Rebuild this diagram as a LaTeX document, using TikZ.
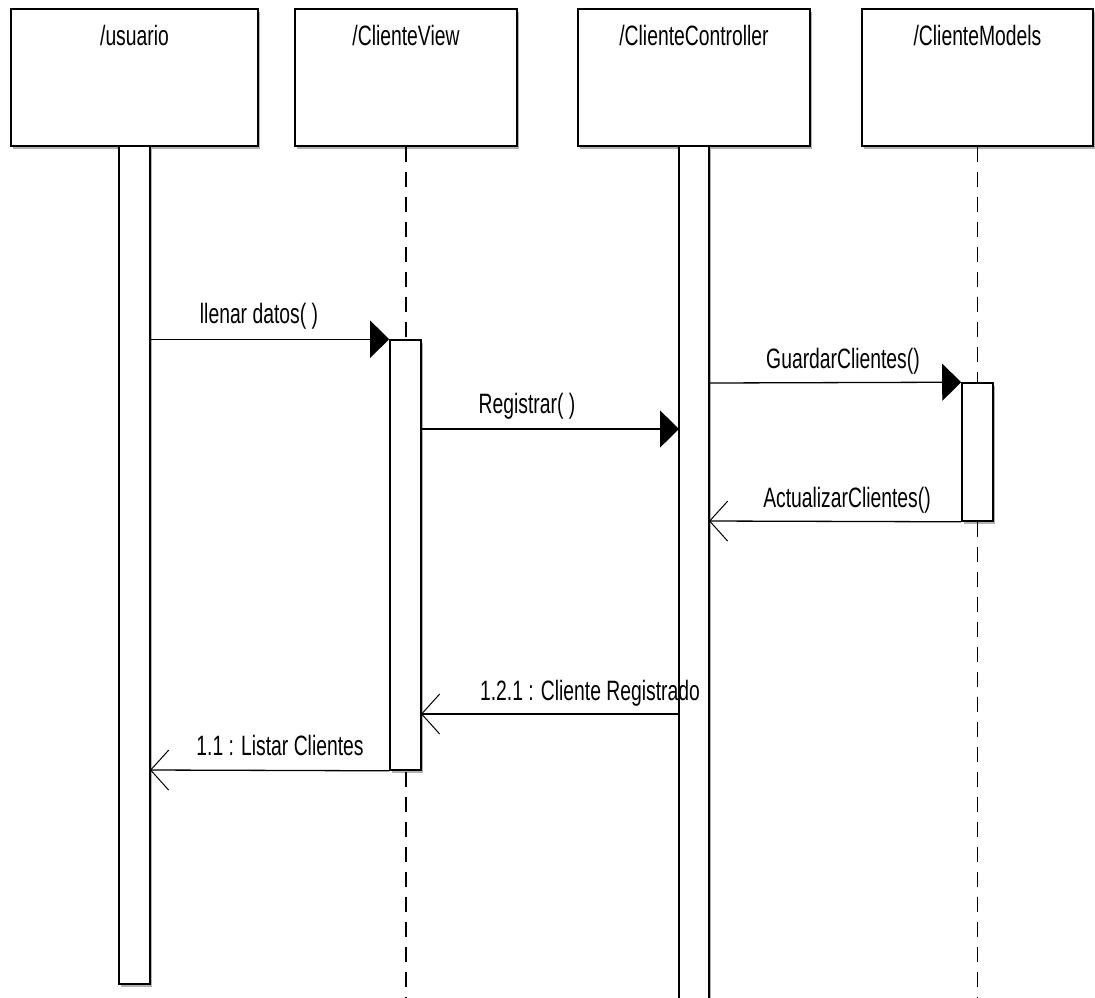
\documentclass[tikz,border=0pt]{standalone}
\usepackage{fontspec}
\setmainfont[FakeStretch=0.69]{Liberation Sans}
\usetikzlibrary{arrows.meta,shadows}
\begin{document}
\begin{tikzpicture}[x=1pt,y=-1pt,
  every node/.style={font=\fontsize{28}{30}\selectfont, inner sep=0pt},
  shadowed/.style={drop shadow={shadow xshift=2pt,shadow yshift=-3pt,opacity=0.3,fill=black}},
  head/.style={draw=black, line width=1.8pt, fill=white, shadowed, minimum height=137pt},
  actbar/.style={draw=black, line width=1.6pt, fill=white, shadowed, minimum width=31pt},
  lifeline/.style={draw=black, line width=1.4pt, dash pattern=on 15pt off 10pt},
  call/.style={draw=black, line width=1.3pt, -{Triangle[length=19pt,width=37pt]}},
  reply/.style={draw=black, line width=1.3pt, -{Straight Barb[length=18pt,width=40pt,line width=1pt]}},
  lbl/.style={anchor=base}]
\useasboundingbox (0,0) rectangle (1095,997);
\fill[white] (0,0) rectangle (1095,997);

% heads
\node[head, minimum width=247pt] (u) at (134.5,77.5) {};
\node[head, minimum width=222pt] (v) at (406,77.5) {};
\node[head, minimum width=232pt] (c) at (694,77.5) {};
\node[head, minimum width=231pt] (m) at (977.5,77.5) {};
\node[lbl] (ut) at (134.5,45) {/usuario};
\node[lbl] (vt) at (406,45) {/ClienteView};
\node[lbl] (ct) at (694,45) {/ClienteController};
\node[lbl] (mt) at (977.5,45) {/ClienteModels};

% lifelines
\coordinate (vend) at (406,1000);
\coordinate (mend) at (977.5,1000);
\draw[lifeline] (v.south) -- (vend);
\draw[lifeline] (m.south) -- (mend);

% activation bars
\node[actbar, minimum height=838pt] (ua) at (134.5,565) {};
\node[actbar, minimum height=430pt] (va) at (405.5,555) {};
\node[actbar, minimum width=30pt, minimum height=870pt] (ca) at (694,581) {};
\node[actbar, minimum height=138pt] (ma) at (977.5,452) {};

% messages
\coordinate (r1) at (421,429);
\coordinate (r2) at (679,429);
\coordinate (a1) at (962,521);
\coordinate (a2) at (709,521);
\coordinate (g1) at (709,383);
\coordinate (d1) at (679,714);
\coordinate (d2) at (421,714);
\coordinate (l1) at (150,770);

\draw[call] (ua.east |- va.north) -- (va.north west);
\draw[call] (r1) -- (r2);
\draw[call] (g1) -- (ma.north west);
\draw[reply] (ma.south west) -- (a2);
\draw[reply] (d1) -- (d2);
\draw[reply] (va.south west) -- (l1);

% labels
\node[lbl] (t1) at (259,323) {llenar datos( )};
\node[lbl] (t2) at (527,413) {Registrar( )};
\node[lbl] (t3) at (843,368) {GuardarClientes()};
\node[lbl] (t4) at (847,507) {ActualizarClientes()};
\node[lbl] (t5) at (590,700) {1.2.1 : Cliente Registrado};
\node[lbl] (t6) at (280,755) {1.1 : Listar Clientes};
\end{tikzpicture}
\end{document}
